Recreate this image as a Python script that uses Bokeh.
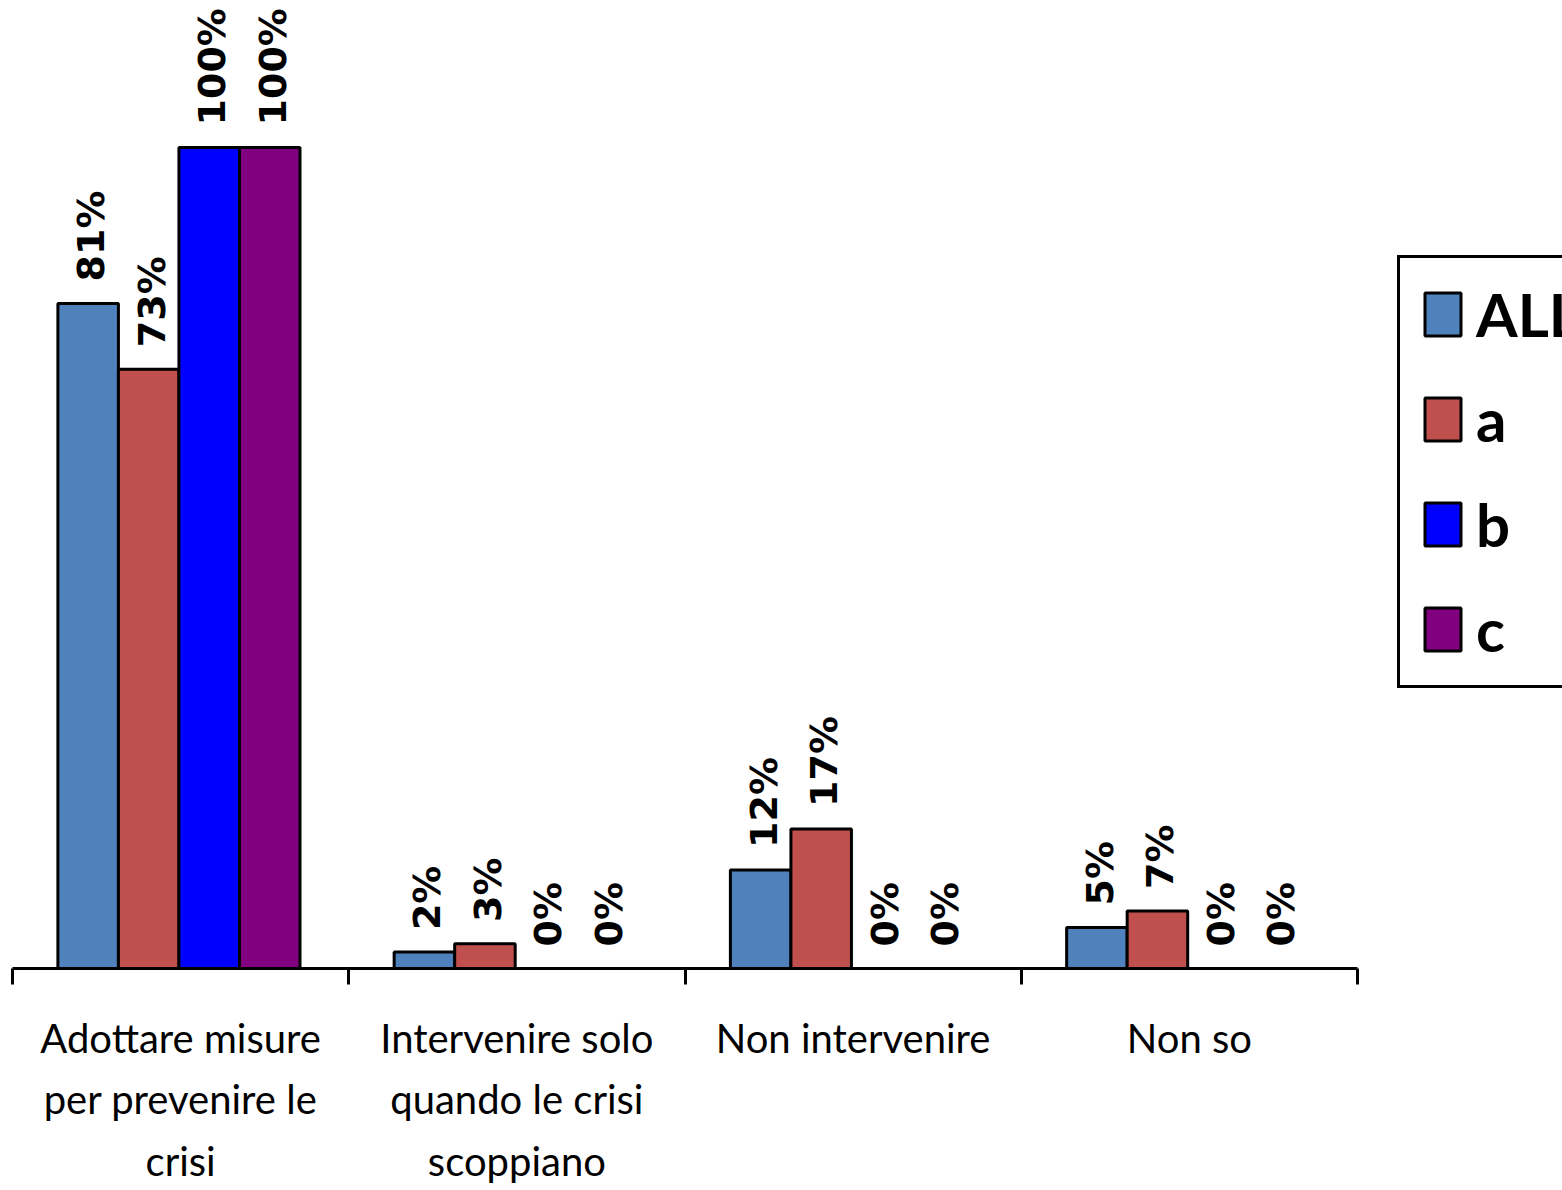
import numpy as np
from bokeh.plotting import figure
from bokeh.models import ColumnDataSource, FixedTicker, Legend, LegendItem, LabelSet, Range1d
from bokeh.embed import file_html
from bokeh.resources import INLINE
from bokeh.core.properties import value

categories = ["Adottare misure\nper prevenire le\ncrisi",
              "Intervenire solo\nquando le crisi\nscoppiano",
              "Non intervenire",
              "Non so"]
series_names = ["ALL", "a", "b", "c"]
all_vals = [81, 2, 12, 5]
a_vals = [73, 3, 17, 7]
b_vals = [100, 0, 0, 0]
c_vals = [100, 0, 0, 0]
colors = ["#4F81BD", "#C0504D", "#0000FF", "#800080"]

n_cat = len(categories)
# frame spans the full width; categories occupy the left 1345 px, the rest holds the legend
x_end = n_cat * 1550 / 1345
p = figure(frame_width=1550, frame_height=968, x_range=Range1d(0, x_end), y_range=Range1d(0, 117.9),
           output_backend="svg", toolbar_location=None,
           min_border_left=12, min_border_right=0, min_border_top=0, min_border_bottom=222)
p.outline_line_color = None
p.grid.visible = False
p.yaxis.visible = False
p.background_fill_color = "white"
p.border_fill_color = "white"

bar_w = 0.18
offsets = [-1.5, -0.5, 0.5, 1.5]
centers = np.arange(n_cat) + 0.5 - 0.005
items = []
for name, vals, col, off in zip(series_names, [all_vals, a_vals, b_vals, c_vals], colors, offsets):
    src = ColumnDataSource(dict(x=centers + off * bar_w, top=vals,
                                label=[f"{v}%" for v in vals]))
    r = p.vbar(x='x', top='top', bottom=0, width=bar_w, source=src,
               fill_color=col, line_color="black", line_width=3)
    items.append(LegendItem(label=name, renderers=[r]))
    labels = LabelSet(x='x', y='top', text='label', source=src, angle=np.pi / 2,
                      text_align='left', text_baseline='middle', y_offset=22, x_offset=3,
                      text_font=value("DejaVu Sans"), text_font_style='bold',
                      text_font_size='38px', text_color='black')
    p.add_layout(labels)

ax = p.xaxis[0]
ax.bounds = (0, n_cat)
tick_pos = [float(i) + 0.5 for i in range(n_cat)]
ax.ticker = FixedTicker(ticks=tick_pos, minor_ticks=list(range(n_cat + 1)))
ax.major_label_overrides = {t: cat for t, cat in zip(tick_pos, categories)}
ax.major_tick_out = 0
ax.major_tick_in = 0
ax.minor_tick_out = 16
ax.minor_tick_in = 0
ax.minor_tick_line_width = 3
ax.minor_tick_line_color = "black"
ax.axis_line_width = 3
ax.axis_line_color = "black"
ax.major_label_standoff = 29
ax.major_label_text_font = "Lato"
ax.major_label_text_font_size = "40px"
ax.major_label_text_line_height = 1.29
ax.major_label_text_color = "black"

legend = Legend(items=items, location=(1385, 280), border_line_color="black", border_line_width=3,
                border_line_alpha=1.0,
                label_text_font="Lato", label_text_font_style="bold", label_text_color="black",
                label_text_font_size="60px", glyph_width=45, glyph_height=54,
                label_standoff=11, padding=20, spacing=33, margin=0,
                background_fill_color="white", background_fill_alpha=1.0)
p.add_layout(legend)

open("out.html", "w").write(file_html(p, INLINE))
